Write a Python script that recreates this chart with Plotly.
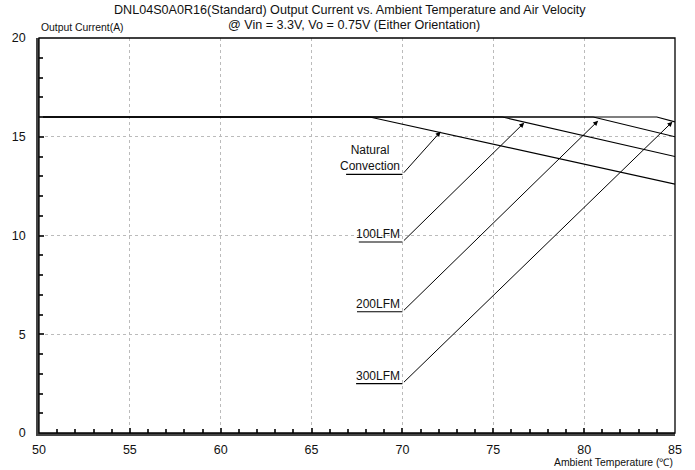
import plotly.graph_objects as go

# derating curves (ambient temp in C, output current in A)
curve_names = ['Natural Convection', '100LFM', '200LFM', '300LFM']
nc_temp = [50, 68.2, 85]
nc_curr = [16, 16, 12.6]
lfm100_temp = [50, 75.5, 85]
lfm100_curr = [16, 16, 14.0]
lfm200_temp = [50, 80.5, 85]
lfm200_curr = [16, 16, 15.0]
lfm300_temp = [50, 84.0, 85]
lfm300_curr = [16, 16, 15.75]

# label leaders: underline start x, underline end x, underline y, arrow tip x, arrow tip y
label_text = ['Natural<br>Convection', '100LFM', '200LFM', '300LFM']
leader_x0 = [66.9, 67.6, 67.5, 67.45]
leader_x1 = [70.0, 70.0, 70.0, 70.0]
leader_y = [13.1, 9.67, 6.14, 2.5]
tip_x = [72.1, 76.7, 80.77, 84.86]
tip_y = [15.26, 15.71, 15.81, 15.76]

title_lines = ['DNL04S0A0R16(Standard) Output Current vs. Ambient Temperature and Air Velocity',
               '@ Vin = 3.3V, Vo = 0.75V (Either Orientation)']

FONT = 'Liberation Sans, Arial, sans-serif'

fig = go.Figure()

for xs, ys, name in zip([nc_temp, lfm100_temp, lfm200_temp, lfm300_temp],
                        [nc_curr, lfm100_curr, lfm200_curr, lfm300_curr],
                        curve_names):
    fig.add_trace(go.Scatter(x=xs, y=ys, mode='lines', name=name,
                             line=dict(color='black', width=1.2)))

for i in range(len(label_text)):
    # underline under the label
    fig.add_trace(go.Scatter(x=[leader_x0[i], leader_x1[i]], y=[leader_y[i], leader_y[i]],
                             mode='lines', line=dict(color='black', width=1.2),
                             hoverinfo='skip'))
    # arrow up to the curve
    fig.add_annotation(x=tip_x[i], y=tip_y[i], ax=leader_x1[i], ay=leader_y[i],
                       xref='x', yref='y', axref='x', ayref='y', text='',
                       showarrow=True, arrowhead=2, arrowsize=1, arrowwidth=1,
                       arrowcolor='black')
    fig.add_annotation(x=leader_x1[i], y=leader_y[i], text=label_text[i],
                       xanchor='right', yanchor='bottom', align='center',
                       showarrow=False, yshift=-1, xshift=0,
                       font=dict(size=12, color='#111'))

# two-line title
fig.add_annotation(x=0.489, y=1, xref='paper', yref='paper', text=title_lines[0],
                   xanchor='center', yanchor='middle', yshift=28, showarrow=False,
                   font=dict(size=12.6, color='#111'))
fig.add_annotation(x=0.496, y=1, xref='paper', yref='paper', text=title_lines[1],
                   xanchor='center', yanchor='middle', yshift=13, showarrow=False,
                   font=dict(size=12.6, color='#111'))

# axis titles placed like the original
fig.add_annotation(x=0, y=1, xref='paper', yref='paper', text='Output Current(A)',
                   xanchor='left', yanchor='bottom', showarrow=False, yshift=3,
                   font=dict(size=10.4, color='#111'))
fig.add_annotation(x=1, y=0, xref='paper', yref='paper', text='Ambient Temperature (℃)',
                   xanchor='right', yanchor='top', showarrow=False, yshift=-22,
                   font=dict(size=10.4, color='#111'))

# thin frame on top/right
fig.add_shape(type='rect', xref='paper', yref='paper', x0=0, y0=0, x1=1, y1=1,
              line=dict(color='black', width=1.3), layer='above')

fig.update_layout(
    width=695, height=470,
    margin=dict(l=37, r=20, t=38, b=37),
    paper_bgcolor='white', plot_bgcolor='white',
    showlegend=False,
    font=dict(family=FONT, size=12, color='#111'),
    xaxis=dict(range=[50, 85], dtick=5, tick0=50, showgrid=True,
               gridcolor='#bbbbbb', griddash='dot', gridwidth=1,
               showline=True, linecolor='#444', linewidth=2.5,
               ticks='inside', ticklen=5, tickcolor='#333', tickwidth=1.5,
               minor=dict(dtick=1, ticks='inside', ticklen=4, tickcolor='#333', showgrid=False),
               tickfont=dict(size=12.5, color='#111'), zeroline=False,
               ticklabelstandoff=3),
    yaxis=dict(range=[0, 20], dtick=5, tick0=0, showgrid=True,
               gridcolor='#bbbbbb', griddash='dot', gridwidth=1,
               showline=True, linecolor='#444', linewidth=2.5,
               ticks='inside', ticklen=5, tickcolor='#333', tickwidth=1.5,
               minor=dict(dtick=1, ticks='inside', ticklen=4, tickcolor='#333', showgrid=False),
               tickfont=dict(size=12.5, color='#111'), zeroline=False,
               ticklabelstandoff=8),
)

fig.write_html("out.html", config={'displayModeBar': False},
               post_script='document.body.style.margin = "0px";')
